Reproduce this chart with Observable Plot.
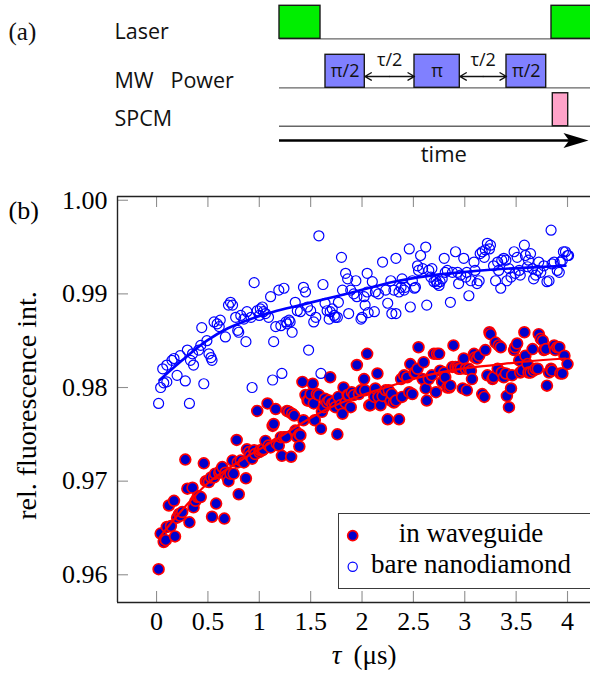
<!DOCTYPE html>
<html><head><meta charset="utf-8">
<script src="https://cdn.jsdelivr.net/npm/d3@7"></script>
<script src="https://cdn.jsdelivr.net/npm/@observablehq/plot@0.6"></script>
<style>
body{margin:0;background:#fff;}
#root{position:relative;width:590px;height:688px;overflow:hidden;background:#fff;}
#root svg{display:block;}
#root svg.serif text, #root .serif text, .serif{font-family:"Liberation Serif","DejaVu Serif","Noto Serif",serif !important;}
</style></head><body><div id="root"></div>
<script>
// ---------------- data: pulse sequence (a) ----------------
const channelNames = ["Laser", "MW", "SPCM"];
const channelLabels = ["Laser", "MW\u00a0\u00a0\u00a0Power", "SPCM"];
const pulseChannel = ["Laser", "MW", "MW", "MW", "Laser", "SPCM"];
const pulseStart = [0, 4.6, 13.5, 22.7, 27.2, 27.33];
const pulseEnd = [4.1, 8.53, 18.03, 26.67, 32, 28.87];
const pulseLabel = ["", "π/2", "π", "π/2", "", ""];
const gapLabel = "τ/2";
const timeLabel = "time";

// ---------------- data: measurement (b) ----------------
const xTicks = [0, 0.5, 1, 1.5, 2, 2.5, 3, 3.5, 4];
const yTicks = [0.96, 0.97, 0.98, 0.99, 1.00];
const seriesNames = ["in waveguide", "bare nanodiamond"];

const inWaveguide = [
[0.02,.9606],[0.04,.9644],[0.07,.9635],[0.09,.9637],[0.10,.9651],[0.12,.9674],[0.14,.9652],[0.17,.9679],[0.18,.9641],[0.20,.9661],[0.22,.9665],[0.23,.9663],[0.25,.9667],[0.28,.9723],[0.30,.9692],[0.32,.9656],[0.35,.9693],[0.36,.9672],[0.38,.9679],[0.40,.9683],[0.41,.9684],[0.43,.9683],[0.46,.9719],[0.48,.9700],[0.49,.9700],[0.51,.9699],[0.53,.9704],[0.54,.9662],[0.56,.9704],[0.57,.9708],[0.58,.9676],[0.61,.9709],[0.62,.9711],[0.64,.9715],[0.66,.9660],[0.67,.9709],[0.69,.9704],[0.70,.9700],[0.72,.9708],[0.74,.9722],[0.75,.9708],[0.78,.9744],[0.79,.9720],[0.80,.9686],[0.82,.9722],[0.85,.9720],[0.87,.9703],[0.88,.9734],[0.90,.9731],[0.91,.9727],[0.93,.9724],[0.95,.9733],[0.96,.9729],[0.98,.9775],[1.00,.9731],[1.01,.9733],[1.03,.9733],[1.04,.9734],[1.06,.9743],[1.08,.9783],[1.09,.9738],[1.11,.9736],[1.13,.9759],[1.14,.9761],[1.16,.9777],[1.17,.9740],[1.19,.9738],[1.21,.9747],[1.22,.9727],[1.24,.9747],[1.26,.9747],[1.27,.9775],[1.29,.9774],[1.31,.9726],[1.32,.9772],[1.34,.9770],[1.35,.9754],[1.37,.9747],[1.39,.9750],[1.39,.9737],[1.40,.9749],[1.42,.9806],[1.43,.9765],[1.45,.9792],[1.47,.9786],[1.48,.9786],[1.50,.9793],[1.52,.9804],[1.53,.9783],[1.54,.9765],[1.56,.9793],[1.58,.9792],[1.60,.9756],[1.61,.9774],[1.63,.9779],[1.64,.9788],[1.66,.9784],[1.68,.9786],[1.69,.9811],[1.71,.9783],[1.73,.9784],[1.74,.9779],[1.76,.9750],[1.77,.9790],[1.79,.9781],[1.81,.9772],[1.82,.9800],[1.84,.9784],[1.86,.9792],[1.87,.9792],[1.89,.9779],[1.90,.9795],[1.92,.9792],[1.95,.9824],[1.97,.9793],[1.99,.9797],[2.02,.9809],[2.03,.9797],[2.05,.9836],[2.07,.9781],
[2.08,.9781],[2.12,.9790],[2.13,.9799],[2.15,.9815],[2.16,.9790],[2.18,.9781],[2.20,.9791],[2.23,.9797],[2.25,.9766],[2.26,.9797],[2.28,.9786],[2.29,.9793],[2.31,.9784],[2.33,.9786],[2.36,.9766],[2.38,.9809],[2.39,.9790],[2.41,.9813],[2.44,.9811],[2.46,.9795],[2.47,.9825],[2.49,.9793],[2.51,.9816],[2.52,.9816],[2.54,.9820],[2.55,.9843],[2.59,.9809],[2.60,.9827],[2.62,.9799],[2.63,.9786],[2.65,.9809],[2.68,.9813],[2.70,.9836],[2.72,.9795],[2.73,.9836],[2.75,.9836],[2.76,.9818],[2.78,.9806],[2.80,.9816],[2.81,.9811],[2.83,.9800],[2.85,.9800],[2.86,.9802],[2.88,.9822],[2.89,.9845],[2.91,.9822],[2.93,.9822],[2.94,.9820],[2.96,.9820],[2.98,.9799],[2.99,.9831],[3.01,.9820],[3.02,.9797],[3.04,.9820],[3.06,.9818],[3.07,.9809],[3.09,.9836],[3.10,.9832],[3.12,.9831],[3.14,.9834],[3.17,.9793],[3.19,.9790],[3.20,.9840],[3.22,.9813],[3.24,.9859],[3.25,.9857],[3.27,.9809],[3.28,.9811],[3.30,.9848],[3.32,.9820],[3.33,.9845],[3.35,.9843],[3.36,.9816],[3.38,.9811],[3.40,.9815],[3.41,.9791],[3.43,.9779],[3.45,.9799],[3.46,.9813],[3.48,.9840],[3.49,.9843],[3.51,.9847],[3.53,.9829],[3.54,.9816],[3.56,.9818],[3.58,.9859],[3.59,.9834],[3.61,.9825],[3.62,.9816],[3.64,.9816],[3.66,.9841],[3.67,.9818],[3.69,.9820],[3.71,.9820],[3.72,.9857],[3.74,.9852],[3.76,.9850],[3.77,.9840],[3.79,.9841],[3.80,.9802],[3.82,.9816],[3.84,.9820],[3.85,.9818],[3.87,.9845],[3.88,.9840],[3.90,.9843],[3.92,.9843],[3.93,.9815],[3.95,.9815],[3.97,.9834],[4.00,.9825]
];

const bareNanodiamond = [
[0.02,.9783],[0.32,.9783],[0.04,.9800],[0.07,.9805],[0.10,.9806],[0.06,.9820],[0.10,.9824],[0.15,.9829],[0.17,.9831],[0.20,.9813],[0.28,.9807],[0.23,.9834],[0.30,.9840],[0.35,.9836],[0.36,.9824],[0.33,.9829],[0.41,.9840],[0.43,.9845],[0.46,.9804],[0.44,.9864],[0.49,.9850],[0.51,.9836],[0.54,.9829],[0.53,.9832],[0.56,.9870],[0.59,.9868],[0.62,.9872],[0.61,.9865],[0.67,.9854],[0.70,.9888],[0.72,.9891],[0.74,.9888],[0.77,.9875],[0.79,.9861],[0.80,.9859],[0.82,.9877],[0.85,.9873],[0.87,.9849],[0.88,.9881],[0.92,.9875],[0.95,.9912],[0.93,.9800],[0.98,.9882],[1.00,.9877],[1.01,.9884],[1.03,.9886],[1.04,.9881],[1.06,.9879],[1.09,.9875],[1.11,.9897],[1.13,.9808],[1.14,.9849],[1.16,.9865],[1.19,.9904],[1.21,.9866],[1.22,.9815],[1.24,.9906],[1.26,.9870],[1.27,.9868],[1.29,.9872],[1.30,.9870],[1.32,.9859],[1.35,.9891],[1.37,.9882],[1.40,.9881],[1.43,.9907],[1.45,.9902],[1.47,.9886],[1.48,.9840],[1.50,.9882],[1.53,.9870],[1.55,.9875],[1.58,.9962],[1.60,.9815],[1.62,.9910],[1.64,.9890],[1.66,.9882],[1.68,.9873],[1.69,.9881],[1.71,.9884],[1.73,.9877],[1.74,.9875],[1.76,.9875],[1.77,.9891],[1.80,.9939],[1.81,.9904],[1.84,.9922],[1.86,.9916],[1.87,.9879],[1.89,.9904],[1.92,.9900],[1.94,.9914],[1.95,.9897],[1.99,.9873],[2.00,.9875],[2.02,.9897],[2.05,.9902],[2.05,.9922],[2.06,.9880],
[2.03,.9888],[2.10,.9913],[2.12,.9881],[2.13,.9902],[2.16,.9900],[2.20,.9934],[2.23,.9904],[2.25,.9890],[2.28,.9914],[2.29,.9879],[2.31,.9904],[2.33,.9879],[2.33,.9938],[2.36,.9902],[2.38,.9907],[2.39,.9916],[2.41,.9904],[2.42,.9907],[2.46,.9948],[2.47,.9886],[2.49,.9914],[2.51,.9906],[2.52,.9907],[2.54,.9930],[2.55,.9925],[2.57,.9941],[2.59,.9927],[2.62,.9950],[2.63,.9888],[2.65,.9925],[2.67,.9918],[2.68,.9927],[2.70,.9913],[2.72,.9914],[2.73,.9911],[2.75,.9909],[2.76,.9913],[2.78,.9916],[2.80,.9938],[2.81,.9923],[2.83,.9925],[2.86,.9891],[2.88,.9923],[2.91,.9945],[2.93,.9923],[2.94,.9911],[2.96,.9920],[2.99,.9938],[3.01,.9918],[3.02,.9923],[3.04,.9898],[3.06,.9914],[3.09,.9934],[3.10,.9925],[3.12,.9911],[3.14,.9914],[3.15,.9943],[3.17,.9945],[3.19,.9939],[3.20,.9947],[3.22,.9954],[3.24,.9948],[3.25,.9952],[3.28,.9930],[3.30,.9914],[3.32,.9934],[3.33,.9925],[3.35,.9906],[3.36,.9936],[3.38,.9938],[3.40,.9936],[3.41,.9914],[3.43,.9927],[3.45,.9918],[3.48,.9945],[3.49,.9922],[3.51,.9939],[3.53,.9925],[3.54,.9920],[3.58,.9952],[3.59,.9941],[3.61,.9929],[3.62,.9936],[3.64,.9943],[3.66,.9927],[3.67,.9916],[3.69,.9920],[3.71,.9925],[3.72,.9934],[3.74,.9923],[3.77,.9930],[3.80,.9913],[3.82,.9914],[3.84,.9968],[3.85,.9932],[3.87,.9934],[3.90,.9925],[3.92,.9923],[3.93,.9934],[3.95,.9936],[3.96,.9945],[3.98,.9945],[4.00,.9941],[4.01,.9941]
];

// fitted curves
const waveguideFit = [[0.03,.9640],[0.20,.9663],[0.49,.9697],[0.82,.9722],[1.14,.9743],[1.40,.9761],[1.66,.9777],[2.08,.9795],[2.29,.9802],[2.63,.9813],[2.96,.9820],[3.28,.9824],[3.61,.9828],[3.98,.9831]];
const bareFit = [[0.03,.9808],[0.27,.9831],[0.49,.9850],[0.69,.9863],[0.91,.9873],[1.14,.9881],[1.40,.9888],[1.66,.9895],[1.92,.9902],[2.31,.9913],[2.63,.9919],[2.96,.9923],[3.28,.9926],[3.61,.9928],[3.98,.9930]];

// ---------------- layout & style ----------------
const root = document.getElementById("root");
const sansFont = "Open Sans, DejaVu Sans, sans-serif";
const serifFont = "Liberation Serif, DejaVu Serif, Noto Serif, serif";
const rowBase = {Laser: 0, MW: -1.485, SPCM: -2.65};
const rowFill = {Laser: "#00ee00", MW: "#8080ff", SPCM: "#ffa3c9"};

const pulses = pulseStart.map((s, i) => ({ch: pulseChannel[i], start: s, end: pulseEnd[i], label: pulseLabel[i]}));
const mw = pulses.filter(p => p.ch === "MW");
const gaps = mw.slice(1).map((p, i) => ({a: mw[i].end, b: p.start, mid: (mw[i].end + p.start) / 2}));
const halfArrows = gaps.flatMap(g => [{from: g.mid, to: g.a}, {from: g.mid, to: g.b}]);
const channels = channelNames.map((c, i) => ({ch: c, label: channelLabels[i]}));

const stealth = {draw(ctx, size) {
  const r = Math.sqrt(size / Math.PI);
  ctx.moveTo(r, 0); ctx.lineTo(-r, -0.6 * r); ctx.lineTo(-0.55 * r, 0); ctx.lineTo(-r, 0.6 * r); ctx.closePath();
}};

const diagram = Plot.plot({
  width: 590, height: 175, margin: 0,
  x: {domain: [0, 31.1], range: [279, 590], axis: null},
  y: {domain: [0, 1], range: [38.3, 5.3], axis: null},
  style: {fontFamily: sansFont, background: "transparent", overflow: "visible"},
  marks: [
    Plot.ruleY(channels, {y: d => rowBase[d.ch], x1: 0, x2: 32, stroke: "#666", strokeWidth: 1.3}),
    Plot.rect(pulses, {x1: "start", x2: "end", y1: d => rowBase[d.ch], y2: d => rowBase[d.ch] + 1,
      fill: d => rowFill[d.ch], stroke: "#1a1a1a", strokeWidth: 1.4}),
    Plot.text(pulses.filter(p => p.label), {x: d => (d.start + d.end) / 2, y: d => rowBase[d.ch] + 0.5,
      text: "label", fontSize: 18, fill: "#111"}),
    Plot.arrow(halfArrows, {x1: "from", x2: "to", y1: rowBase.MW + 0.343, y2: rowBase.MW + 0.343,
      bend: 0, headLength: 8, strokeWidth: 1.4, stroke: "#111"}),
    Plot.text(gaps, {x: "mid", y: rowBase.MW + 0.85, text: () => gapLabel, fontSize: 18, fill: "#111"}),
    Plot.text(channels, {x: -16.5, y: d => rowBase[d.ch] + 0.21, text: "label", textAnchor: "start", fontSize: 21.5, fill: "#111"}),
    Plot.ruleY([0], {y: -3.082, x1: 0, x2: 29, stroke: "#000", strokeWidth: 2.6}),
    Plot.dot([0], {x: 29.65, y: -3.082, r: 12.5, symbol: stealth, fill: "#000", stroke: "none"}),
    Plot.text([timeLabel], {x: 16.43, y: -3.51, text: d => d, fontSize: 22, fill: "#111"}),
    Plot.text(["(a)"], {frameAnchor: "top-left", dx: 8, dy: 21.5, text: d => d, textAnchor: "start",
      fontSize: 25, fill: "#111", className: "serif"})
  ]
});
root.appendChild(diagram);

const xDom = [-0.38, 4.25], yDom = [0.95704, 1.0004];
const chart = Plot.plot({
  width: 590, height: 513, className: "serif",
  marginLeft: 117, marginRight: 0, marginTop: 21, marginBottom: 86,
  x: {domain: xDom, range: [117, 592.7]},
  y: {domain: yDom, range: [427, 21]},
  style: {fontFamily: serifFont, fontSize: "26px", background: "transparent", overflow: "visible"},
  marks: [
    Plot.tickX(xTicks, {x: d => d, insetTop: 395, stroke: "#8f8f8f", strokeWidth: 1.1}),
    Plot.tickX(xTicks, {x: d => d, insetBottom: 395, stroke: "#8f8f8f", strokeWidth: 1.1}),
    Plot.tickY(yTicks, {y: d => d, insetRight: 462, stroke: "#8f8f8f", strokeWidth: 1.1}),
    Plot.axisX(xTicks, {tickSize: 0, tickPadding: 9, label: null, fontSize: 26, tickFormat: d => String(d)}),
    Plot.axisY(yTicks, {tickSize: 0, tickPadding: 10, label: null, fontSize: 26, tickFormat: d3.format(".2f")}),
    Plot.dot(inWaveguide, {x: d => d[0], y: d => d[1], r: 5.4, fill: "#0000cc", stroke: "#ff0000", strokeWidth: 1.7}),
    Plot.line(waveguideFit, {x: d => d[0], y: d => d[1], stroke: "#ff0000", strokeWidth: 2.2, curve: "monotone-x"}),
    Plot.dot(bareNanodiamond, {x: d => d[0], y: d => d[1], r: 5, fill: "none", stroke: "#0000ff", strokeWidth: 1.2}),
    Plot.line(bareFit, {x: d => d[0], y: d => d[1], stroke: "#0000ff", strokeWidth: 2.6, curve: "monotone-x"}),
    Plot.ruleX([xDom[0]], {stroke: "#222", strokeWidth: 1.4}),
    Plot.ruleY(yDom, {stroke: "#222", strokeWidth: 1.4}),
    Plot.text(["τ"], {x: 1.752, frameAnchor: "bottom", dy: 61, text: d => d, fontStyle: "italic", fontSize: 27}),
    Plot.text(["(μs)"], {x: 2.127, frameAnchor: "bottom", dy: 61, text: d => d, fontSize: 27}),
    Plot.text(["rel. fluorescence int."], {x: -1.256, y: 0.97807, rotate: -90, text: d => d, fontSize: 28}),
    Plot.text(["(b)"], {frameAnchor: "top-left", dx: -109, dy: 4, textAnchor: "start", text: d => d, fontSize: 26})
  ]
});
root.appendChild(chart);

// legend (inside plot, lower right)
const leg = document.createElement("div");
leg.className = "serif";
leg.style.cssText = "position:absolute;left:338px;top:513px;width:262px;height:76px;border:1.5px solid #3a3a3a;background:#fff;box-sizing:border-box;";
leg.innerHTML = `<svg class="serif" width="262" height="76" style="position:absolute;left:-1.5px;top:-1.5px;">
<circle cx="14.7" cy="22.7" r="5" fill="#0000cc" stroke="#ff0000" stroke-width="1.7"></circle>
<circle cx="14.7" cy="53.7" r="4.6" fill="none" stroke="#0000ff" stroke-width="1.2"></circle>
<text x="133" y="29" text-anchor="middle" font-size="27">${seriesNames[0]}</text>
<text x="133" y="60" text-anchor="middle" font-size="27">${seriesNames[1]}</text>
</svg>`;
root.appendChild(leg);
</script></body></html>
